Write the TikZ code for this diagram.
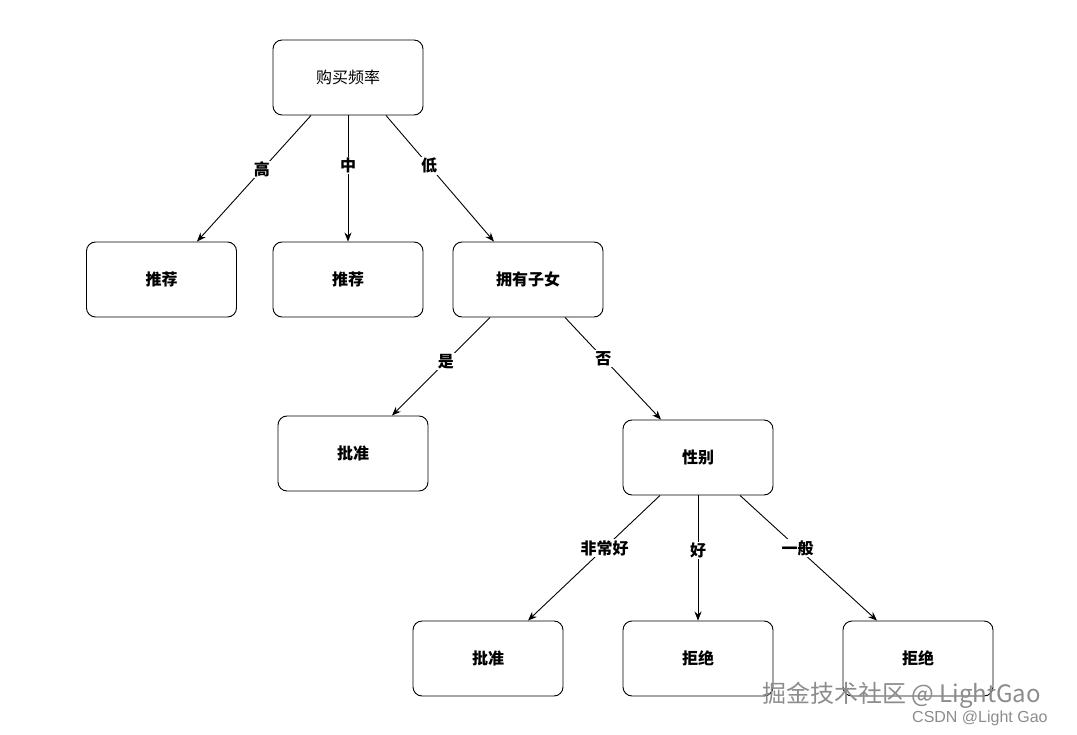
\documentclass[tikz,border=0pt]{standalone}
\usepackage{fontspec}
\setmainfont{Noto Sans CJK SC}
\newfontfamily\wmfont{Liberation Sans}
\usetikzlibrary{arrows.meta}
\begin{document}
\begin{tikzpicture}[x=1pt,y=-1pt,
  box/.style={draw,line width=0.9pt,rounded corners=9pt,minimum width=150pt,minimum height=75pt,font=\bfseries\fontsize{16}{18}\selectfont},
  arr/.style={-{Stealth[length=9pt,width=7pt]},line width=0.9pt},
  lab/.style={fill=white,inner sep=1pt,font=\bfseries\fontsize{16}{18}\selectfont}]
\useasboundingbox (0,0) rectangle (1077,735);
\node[box,font=\fontsize{16}{18}\selectfont] (top) at (348,77.5) {购买频率};
\node[box] (r1) at (161.5,279.5) {推荐};
\node[box] (r2) at (348,279.5) {推荐};
\node[box] (kid) at (528,279.5) {拥有子女};
\node[box] (ok1) at (353,453.5) {批准};
\node[box] (sex) at (698,457.5) {性别};
\node[box] (ok2) at (488,658.5) {批准};
\node[box] (no1) at (698,658.5) {拒绝};
\node[box] (no2) at (918,658.5) {拒绝};
\draw[arr] ([xshift=-37pt]top.south) -- node[lab,pos=0.43]{高} ([xshift=35.5pt]r1.north);
\draw[arr] (top.south) -- node[lab,pos=0.4]{中} (r2.north);
\draw[arr] ([xshift=38pt]top.south) -- node[lab,pos=0.4]{低} ([xshift=-34pt]kid.north);
\draw[arr] ([xshift=-38pt]kid.south) -- node[lab,pos=0.45]{是} ([xshift=39pt]ok1.north);
\draw[arr] ([xshift=37pt]kid.south) -- node[lab,pos=0.4]{否} ([xshift=-37pt]sex.north);
\draw[arr] ([xshift=-38pt]sex.south) -- node[lab,pos=0.42]{非常好} ([xshift=40pt]ok2.north);
\draw[arr] (sex.south) -- node[lab,pos=0.44]{好} (no1.north);
\draw[arr] ([xshift=42pt]sex.south) -- node[lab,pos=0.42]{一般} ([xshift=-41pt]no2.north);
\node[text=black!45,font=\fontsize{24}{26}\selectfont,inner sep=0pt,anchor=west] (wm1) at (762,695) {掘金技术社区 @ LightGao};
\node[text=black!45,font=\wmfont\fontsize{16}{18}\selectfont,inner sep=0pt,anchor=west] (wm2) at (912,718) {CSDN @Light Gao};
\end{tikzpicture}
\end{document}
